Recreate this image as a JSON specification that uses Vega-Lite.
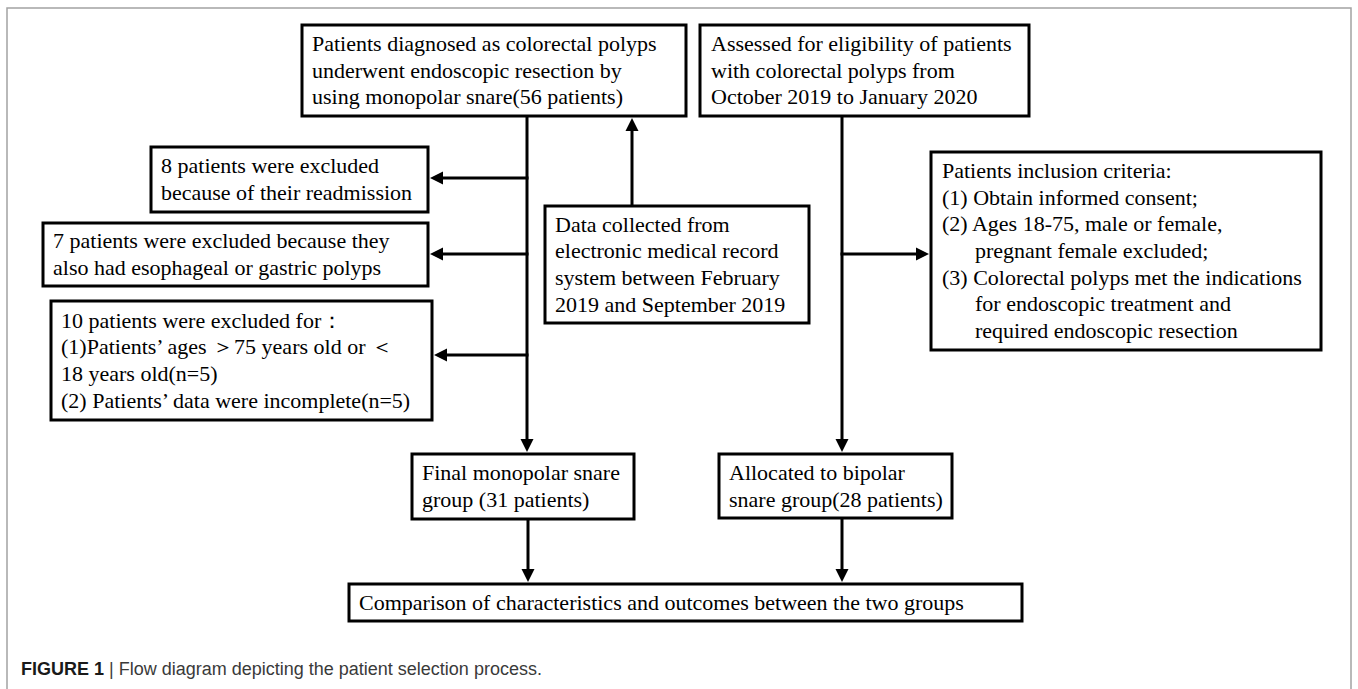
{
  "$schema": "https://vega.github.io/schema/vega-lite/v6.json",
  "width": 1358,
  "height": 689,
  "padding": 0,
  "autosize": {"type": "none"},
  "background": "white",
  "config": {"view": {"stroke": null}},
  "datasets": {
    "frame": [{"x": 7, "x2": 1351, "y": 8, "y2": 694}],
    "boxes": [
      {"id": "A", "x": 302, "x2": 686, "y": 25, "y2": 116},
      {"id": "B", "x": 700, "x2": 1029, "y": 25, "y2": 116},
      {"id": "ex8", "x": 151, "x2": 428, "y": 147, "y2": 212},
      {"id": "ex7", "x": 43, "x2": 428, "y": 223, "y2": 286},
      {"id": "ex10", "x": 51, "x2": 432, "y": 301, "y2": 420},
      {"id": "data", "x": 545, "x2": 809, "y": 206, "y2": 323},
      {"id": "incl", "x": 931, "x2": 1321, "y": 152, "y2": 350},
      {"id": "final", "x": 412, "x2": 634, "y": 454, "y2": 519},
      {"id": "alloc", "x": 719, "x2": 952, "y": 454, "y2": 518},
      {"id": "comp", "x": 349, "x2": 1022, "y": 584, "y2": 621}
    ],
    "lines": [
      {"x": 527, "y": 116, "x2": 527, "y2": 444},
      {"x": 528.5, "y": 178, "x2": 438, "y2": 178},
      {"x": 528.5, "y": 254, "x2": 438, "y2": 254},
      {"x": 528.5, "y": 355, "x2": 442, "y2": 355},
      {"x": 632, "y": 206, "x2": 632, "y2": 126},
      {"x": 842, "y": 116, "x2": 842, "y2": 444},
      {"x": 840.5, "y": 254, "x2": 921, "y2": 254},
      {"x": 528, "y": 519, "x2": 528, "y2": 574},
      {"x": 842, "y": 518, "x2": 842, "y2": 574}
    ],
    "heads": [
      {"x": 527, "y": 452, "dir": "down"},
      {"x": 430, "y": 178, "dir": "left"},
      {"x": 430, "y": 254, "dir": "left"},
      {"x": 434, "y": 355, "dir": "left"},
      {"x": 632, "y": 118, "dir": "up"},
      {"x": 842, "y": 452, "dir": "down"},
      {"x": 929, "y": 254, "dir": "right"},
      {"x": 528, "y": 582, "dir": "down"},
      {"x": 842, "y": 582, "dir": "down"}
    ],
    "texts": [
      {"x": 312, "y": 44, "t": "Patients diagnosed as colorectal polyps"},
      {"x": 312, "y": 70.5, "t": "underwent endoscopic resection by"},
      {"x": 312, "y": 97, "t": "using monopolar snare(56 patients)"},
      {"x": 711, "y": 44, "t": "Assessed for eligibility of patients"},
      {"x": 711, "y": 70.5, "t": "with colorectal polyps from"},
      {"x": 711, "y": 97, "t": "October 2019 to January 2020"},
      {"x": 161, "y": 166, "t": "8 patients were excluded"},
      {"x": 161, "y": 193, "t": "because of their readmission"},
      {"x": 53, "y": 241, "t": "7 patients were excluded because they"},
      {"x": 53, "y": 268, "t": "also had esophageal or gastric polyps"},
      {"x": 61, "y": 320.5, "t": "10 patients were excluded for："},
      {"x": 61, "y": 347, "t": "(1)Patients’ ages ＞75 years old or ＜"},
      {"x": 61, "y": 374, "t": "18 years old(n=5)"},
      {"x": 61, "y": 400.5, "t": "(2) Patients’ data were incomplete(n=5)"},
      {"x": 555, "y": 224.5, "t": "Data collected from"},
      {"x": 555, "y": 251, "t": "electronic medical record"},
      {"x": 555, "y": 278, "t": "system between February"},
      {"x": 555, "y": 304.5, "t": "2019 and September 2019"},
      {"x": 942, "y": 171, "t": "Patients inclusion criteria:"},
      {"x": 942, "y": 197.6, "t": "(1) Obtain informed consent;"},
      {"x": 942, "y": 224.3, "t": "(2) Ages 18-75, male or female,"},
      {"x": 975, "y": 251, "t": "pregnant female excluded;"},
      {"x": 942, "y": 277.7, "t": "(3) Colorectal polyps met the indications"},
      {"x": 975, "y": 304.3, "t": "for endoscopic treatment and"},
      {"x": 975, "y": 331, "t": "required endoscopic resection"},
      {"x": 422, "y": 473, "t": "Final monopolar snare"},
      {"x": 422, "y": 500, "t": "group (31 patients)"},
      {"x": 729, "y": 473, "t": "Allocated to bipolar"},
      {"x": 729, "y": 500, "t": "snare group(28 patients)"},
      {"x": 359, "y": 602.5, "t": "Comparison of characteristics and outcomes between the two groups"}
    ],
    "capBold": [{"x": 21, "y": 670, "t": "FIGURE 1"}],
    "capRest": [{"x": 109, "y": 670, "t": "| Flow diagram depicting the patient selection process."}]
  },
  "encoding": {
    "x": {"field": "x", "type": "quantitative", "scale": {"domain": [0, 1358], "nice": false, "zero": false}, "axis": null},
    "y": {"field": "y", "type": "quantitative", "scale": {"domain": [0, 689], "reverse": true, "nice": false, "zero": false}, "axis": null}
  },
  "layer": [
    {
      "data": {"name": "frame"},
      "mark": {"type": "rect", "fill": "white", "stroke": "#a3a3a3", "strokeWidth": 1.5},
      "encoding": {"x2": {"field": "x2"}, "y2": {"field": "y2"}}
    },
    {
      "data": {"name": "lines"},
      "mark": {"type": "rule", "color": "black", "strokeWidth": 3, "strokeCap": "butt"},
      "encoding": {"x2": {"field": "x2"}, "y2": {"field": "y2"}}
    },
    {
      "data": {"name": "boxes"},
      "mark": {"type": "rect", "fill": "white", "stroke": "black", "strokeWidth": 3},
      "encoding": {"x2": {"field": "x2"}, "y2": {"field": "y2"}}
    },
    {
      "data": {"name": "heads"},
      "mark": {"type": "point", "filled": true, "color": "black", "opacity": 1, "size": 676, "strokeWidth": 0},
      "encoding": {
        "shape": {
          "field": "dir", "type": "nominal",
          "scale": {"domain": ["down", "up", "left", "right"], "range": ["M0,0L-0.5,-1L0.5,-1Z", "M0,0L-0.5,1L0.5,1Z", "M0,0L1,-0.5L1,0.5Z", "M0,0L-1,-0.5L-1,0.5Z"]},
          "legend": null
        }
      }
    },
    {
      "data": {"name": "texts"},
      "mark": {"type": "text", "align": "left", "baseline": "middle", "font": "Liberation Serif", "fontSize": 22, "color": "black"},
      "encoding": {"text": {"field": "t"}}
    },
    {
      "data": {"name": "capBold"},
      "mark": {"type": "text", "align": "left", "baseline": "middle", "font": "Liberation Sans", "fontSize": 18, "fontWeight": "bold", "color": "#1a1a1a"},
      "encoding": {"text": {"field": "t"}}
    },
    {
      "data": {"name": "capRest"},
      "mark": {"type": "text", "align": "left", "baseline": "middle", "font": "Liberation Sans", "fontSize": 18, "color": "#3a3a3a"},
      "encoding": {"text": {"field": "t"}}
    }
  ]
}
